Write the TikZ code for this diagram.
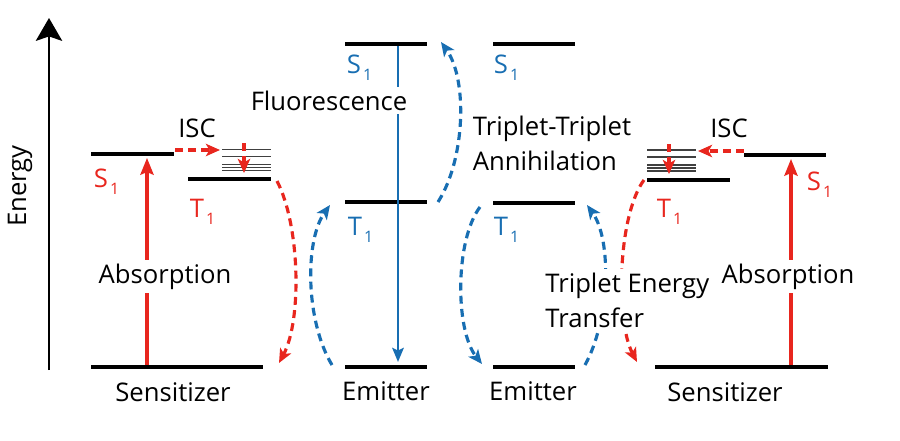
\documentclass[tikz,border=0pt]{standalone}
\usepackage{fontspec}
\setmainfont{Open Sans}
\usepackage{xcolor}
\usetikzlibrary{arrows.meta}
\definecolor{sred}{RGB}{232,38,30}
\definecolor{eblue}{RGB}{24,110,178}
\newcommand{\lsub}[1]{\hspace{1.2pt}\raisebox{-4.5pt}{\fontsize{9}{9}\selectfont#1}}

\begin{document}
\begin{tikzpicture}[x=0.02cm,y=-0.02cm,
  level/.style={line width=2.3pt},
  vib/.style={line width=0.6pt,black!75},
  lbl/.style={font=\fontsize{14.6}{20}\selectfont,inner sep=2pt},
  boxlbl/.style={lbl,fill=white,inner xsep=4pt,inner ysep=2pt},
  redarr/.style={sred,line width=1.8pt,-{Stealth[length=9.5pt,width=7.5pt,inset=1.5pt]}},
  bluearr/.style={eblue,line width=1.5pt,-{Stealth[length=8pt,width=6.5pt,inset=1.5pt]}},
  reddash/.style={sred,line width=1.8pt,dash pattern=on 4.5pt off 3pt,-{Stealth[length=8pt,width=7pt,inset=2pt]}},
  bluedash/.style={eblue,line width=1.8pt,dash pattern=on 4.5pt off 3pt,-{Stealth[length=8pt,width=7pt,inset=2pt]}}]
\useasboundingbox (0,0) rectangle (900,440);

\coordinate (eBot) at (49,370);
\coordinate (eTop) at (49,18);
\draw[line width=1.2pt,-{Stealth[length=13pt,width=15pt,inset=2.5pt]}] (eBot) -- (eTop);
\node[lbl,rotate=90] (energy) at (20,186) {Energy};

\draw[level] (91,154) -- (174,154);
\draw[level] (188,179) -- (271,179);
\draw[level] (91,367) -- (263,367);
\foreach \y in {149.5,156.5,164.5,167.5,170.5} \draw[vib] (222,\y) -- (271,\y);
\draw[level] (345,44) -- (427,44);
\draw[level] (345,202) -- (427,202);
\draw[level] (345,367) -- (427,367);
\draw[level] (493,44) -- (575,44);
\draw[level] (493,203) -- (575,203);
\draw[level] (493,367) -- (575,367);
\draw[level] (744,155) -- (826,155);
\draw[level] (647,180) -- (730,180);
\draw[level] (655,367) -- (828,367);
\foreach \y in {150,157,165,168,171} \draw[vib] (647,\y) -- (696,\y);

\coordinate (absLa) at (147,365);
\coordinate (absLb) at (147,158);
\coordinate (absRa) at (791,365);
\coordinate (absRb) at (791,159);
\coordinate (iscLa) at (175,150);
\coordinate (iscLb) at (220,150);
\coordinate (iscRa) at (744,151);
\coordinate (iscRb) at (698,151);
\coordinate (vrLa) at (244,143);
\coordinate (vrLb) at (244,173);
\coordinate (vrRa) at (669,144);
\coordinate (vrRb) at (669,174);
\coordinate (flA) at (398,46);
\coordinate (flB) at (398,362);
\coordinate (tetLa) at (277,181);
\coordinate (tetLb) at (279,363);
\coordinate (upLa) at (332,365);
\coordinate (upLb) at (330,205);
\coordinate (ttaA) at (438,202);
\coordinate (ttaB) at (441,42);
\coordinate (dnRa) at (480,207);
\coordinate (dnRb) at (482,364);
\coordinate (upRa) at (585,365);
\coordinate (upRb) at (587,205);
\coordinate (tetRa) at (644,180);
\coordinate (tetRb) at (637,362);

\draw[redarr] (absLa) -- (absLb);
\draw[redarr] (absRa) -- (absRb);
\draw[reddash] (iscLa) -- (iscLb);
\draw[reddash] (iscRa) -- (iscRb);
\draw[reddash] (vrLa) -- (vrLb);
\draw[reddash] (vrRa) -- (vrRb);
\draw[bluearr] (flA) -- (flB);
\draw[reddash] (tetLa) .. controls (300,225) and (302,320) .. (tetLb);
\draw[bluedash] (upLa) .. controls (305,320) and (305,240) .. (upLb);
\draw[bluedash] (ttaA) .. controls (465,160) and (468,80) .. (ttaB);
\draw[bluedash] (dnRa) .. controls (455,240) and (455,330) .. (dnRb);
\draw[bluedash] (upRa) .. controls (610,320) and (612,240) .. (upRb);
\draw[reddash] (tetRa) .. controls (618,215) and (615,320) .. (tetRb);

\node[lbl,anchor=base] (iscL) at (197,137) {ISC};
\node[lbl,anchor=base] (iscR) at (729,137) {ISC};
\node[lbl,sred,anchor=base west] (s1L) at (90,187) {S\lsub{1}};
\node[lbl,sred,anchor=base west] (t1L) at (186,217) {T\lsub{1}};
\node[lbl,sred,anchor=base west] (s1R) at (803,190) {S\lsub{1}};
\node[lbl,sred,anchor=base west] (t1R) at (653,217) {T\lsub{1}};
\node[lbl,eblue,anchor=base west] (s1E) at (343,73) {S\lsub{1}};
\node[lbl,eblue,anchor=base west] (t1E) at (344,235) {T\lsub{1}};
\node[lbl,eblue,anchor=base west] (s1F) at (490,73) {S\lsub{1}};
\node[lbl,eblue,anchor=base west] (t1F) at (490,235) {T\lsub{1}};
\node[boxlbl,anchor=base] (fluor) at (329,110) {Fluorescence};
\node[boxlbl,anchor=base] (absL) at (165,283) {Absorption};
\node[boxlbl,anchor=base] (absR) at (788,283) {Absorption};
\node[lbl,align=left,anchor=west] (tta) at (469,143) {Triplet-Triplet\\Annihilation};
\node[boxlbl,align=left,anchor=west] (tet) at (538,300) {Triplet Energy\\Transfer};
\node[lbl,anchor=base] (sensL) at (173,401) {Sensitizer};
\node[lbl,anchor=base] (sensR) at (725,401) {Sensitizer};
\node[lbl,anchor=base] (emA) at (386,400) {Emitter};
\node[lbl,anchor=base] (emB) at (533,400) {Emitter};
\end{tikzpicture}
\end{document}
